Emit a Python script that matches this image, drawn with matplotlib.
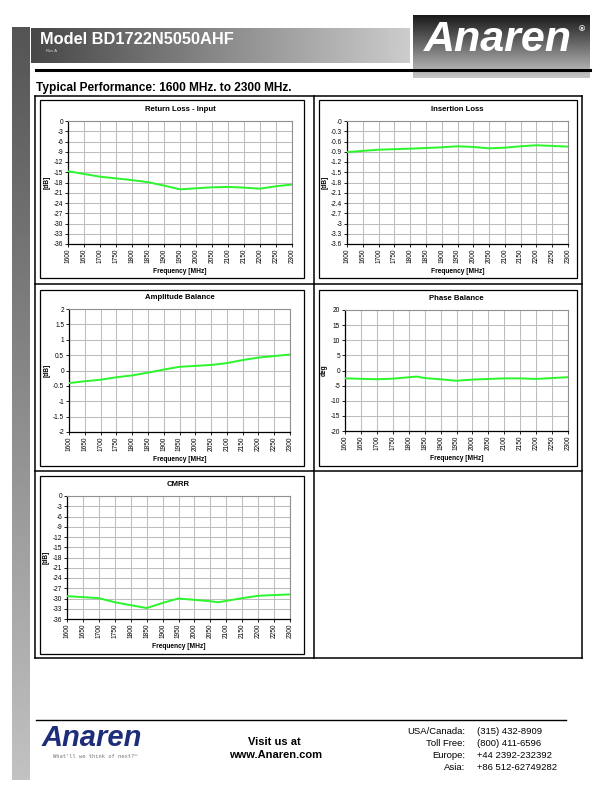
import matplotlib
matplotlib.use("Agg")
import matplotlib.pyplot as plt
import numpy as np
from matplotlib.patches import Rectangle

plt.rcParams['font.family'] = ['Liberation Sans', 'DejaVu Sans']

W, H = 612, 792

# data
rl_freq = [1600, 1700, 1800, 1850, 1900, 1950, 2000, 2050, 2100, 2150, 2200, 2250, 2300]
rl_db = [-14.7, -16.3, -17.3, -17.9, -18.9, -20.0, -19.7, -19.4, -19.3, -19.5, -19.8, -19.1, -18.6]

il_freq = [1600, 1700, 1800, 1900, 1950, 2000, 2050, 2100, 2150, 2200, 2250, 2300]
il_db = [-0.91, -0.84, -0.81, -0.77, -0.74, -0.76, -0.80, -0.78, -0.74, -0.71, -0.73, -0.75]

ab_freq = [1600, 1650, 1700, 1750, 1800, 1850, 1900, 1950, 2000, 2050, 2100, 2150, 2200, 2250, 2300]
ab_db = [-0.41, -0.35, -0.30, -0.22, -0.16, -0.07, 0.03, 0.12, 0.15, 0.18, 0.24, 0.34, 0.42, 0.47, 0.52]

pb_freq = [1600, 1700, 1750, 1825, 1850, 1900, 1950, 2000, 2050, 2100, 2150, 2200, 2250, 2300]
pb_deg = [-2.6, -2.9, -2.7, -2.0, -2.5, -2.9, -3.4, -3.0, -2.8, -2.6, -2.6, -2.8, -2.5, -2.2]

cm_freq = [1600, 1650, 1700, 1750, 1850, 1900, 1950, 2000, 2050, 2075, 2100, 2150, 2200, 2250, 2300]
cm_db = [-29.3, -29.6, -29.9, -31.1, -32.8, -31.3, -30.0, -30.4, -30.8, -31.1, -30.7, -29.9, -29.2, -29.0, -28.8]

freq_ticks = list(range(1600, 2301, 50))

fig = plt.figure(figsize=(W / 100, H / 100), dpi=100)
fig.patch.set_facecolor('white')

# overlay in pixel coordinates for page decoration
bg = fig.add_axes([0, 0, 1, 1])
bg.set_xlim(0, W)
bg.set_ylim(H, 0)
bg.axis('off')

# left gray bar, dark at top
grad_v = np.linspace(0.33, 0.76, 256).reshape(-1, 1)
bg.imshow(grad_v, cmap='gray', vmin=0, vmax=1, extent=(12, 30, 780, 27), aspect='auto', zorder=1)

# header band, dark to light
grad_h = np.linspace(0.28, 0.80, 256).reshape(1, -1)
bg.imshow(grad_h, cmap='gray', vmin=0, vmax=1, extent=(31, 410, 63, 28), aspect='auto', zorder=1)
bg.text(40, 40, 'Model BD1722N5050AHF', color='white', fontsize=11.8, fontweight='bold', va='center', zorder=3)
bg.text(46, 50.5, 'Rev A', color='#dddddd', fontsize=3, va='center', zorder=3)

# logo block
grad_logo = np.linspace(0.10, 0.78, 256).reshape(-1, 1)
bg.imshow(grad_logo, cmap='gray', vmin=0, vmax=1, extent=(413, 590, 78, 15), aspect='auto', zorder=1)
bg.text(498, 40, 'Anaren', color='white', fontsize=31, fontweight='bold', style='italic',
        ha='center', va='center', zorder=3)
bg.text(582, 30, '®', color='white', fontsize=6, fontweight='bold', ha='center', va='center', zorder=3)

bg.plot([36, 590], [70, 70], color='black', lw=2.2, zorder=4)

bg.text(36, 88, 'Typical Performance: 1600 MHz. to 2300 MHz.', fontsize=8.6, fontweight='bold', va='center')

# table of cells
tl, tm, tr, tt, tb = 35, 314, 582, 96, 658
rows = [96, 284, 471, 658]
for y in rows:
    bg.plot([tl, tr], [y, y], color='black', lw=1.1, zorder=4)
for x in [tl, tm, tr]:
    bg.plot([x, x], [tt, tb], color='black', lw=1.1, zorder=4)

# chart frames (left, top, right, bottom)
frames = [(40, 100, 304, 278), (319, 100, 577, 278),
          (40, 290, 304, 466), (319, 290, 577, 466),
          (40, 476, 304, 654)]
for l, t, r, b in frames:
    bg.add_patch(Rectangle((l, t), r - l, b - t, fill=False, ec='black', lw=0.9, zorder=4))


def chart(box, xs, ys, yticks, title, ylabel):
    l, t, r, b = box
    ax = fig.add_axes([l / W, 1 - b / H, (r - l) / W, (b - t) / H])
    ax.plot(xs, ys, color='#2bf52b', lw=1.4, solid_joinstyle='round', zorder=3)
    ax.set_xlim(1600, 2300)
    ax.set_ylim(yticks[0], yticks[-1])
    ax.set_xticks(freq_ticks)
    ax.set_xticklabels([str(f) for f in freq_ticks], rotation=90)
    ax.set_yticks(yticks)
    ax.set_yticklabels([('%g' % v) for v in yticks])
    ax.grid(True, color='#bdbdbd', lw=0.75, zorder=0)
    ax.tick_params(labelsize=4.7, length=2, width=0.6, pad=1.5, colors='black')
    for s in ['top', 'right']:
        ax.spines[s].set_color('#909090')
        ax.spines[s].set_linewidth(0.8)
    for s in ['left', 'bottom']:
        ax.spines[s].set_color('black')
        ax.spines[s].set_linewidth(0.9)
    ax.set_title(title, fontsize=5.6, fontweight='bold', pad=7)
    ax.set_xlabel('Frequency [MHz]', fontsize=4.8, fontweight='bold', labelpad=3)
    ax.set_ylabel(ylabel, fontsize=4.8, fontweight='bold', labelpad=2)
    return ax


db36 = list(range(-36, 1, 3))
chart((68, 121, 292, 244), rl_freq, rl_db, db36, 'Return Loss - Input', '[dB]')
chart((347, 121, 568, 244), il_freq, il_db, [round(-3.6 + 0.3 * i, 1) for i in range(13)], 'Insertion Loss', '[dB]')
chart((69, 309, 290, 432), ab_freq, ab_db, [-2, -1.5, -1, -0.5, 0, 0.5, 1, 1.5, 2], 'Amplitude Balance', '[dB]')
chart((345, 310, 568, 431), pb_freq, pb_deg, list(range(-20, 21, 5)), 'Phase Balance', 'deg')
chart((67, 496, 290, 619), cm_freq, cm_db, db36, 'CMRR', '[dB]')

# footer
bg.plot([36, 566], [720, 720], color='black', lw=1.0)
bg.text(92, 738, 'Anaren', color='#1e2d7a', fontsize=21, fontweight='bold', style='italic',
        ha='center', va='center')
bg.text(95, 757, "What'll we think of next?\u2122", color='#777777', fontsize=3.9,
        family='DejaVu Sans Mono', ha='center', va='center')
bg.text(274, 742, 'Visit us at', fontsize=8, fontweight='bold', ha='center', va='center')
bg.text(276, 755, 'www.Anaren.com', fontsize=8, fontweight='bold', ha='center', va='center')

contact_names = ['USA/Canada:', 'Toll Free:', 'Europe:', 'Asia:']
contact_nums = ['(315) 432-8909', '(800) 411-6596', '+44 2392-232392', '+86 512-62749282']
for i, (n, v) in enumerate(zip(contact_names, contact_nums)):
    y = 732 + i * 11.7
    bg.text(465, y, n, fontsize=6.8, ha='right', va='center')
    bg.text(477, y, v, fontsize=6.8, ha='left', va='center')

fig.savefig('out.png', dpi=100)
